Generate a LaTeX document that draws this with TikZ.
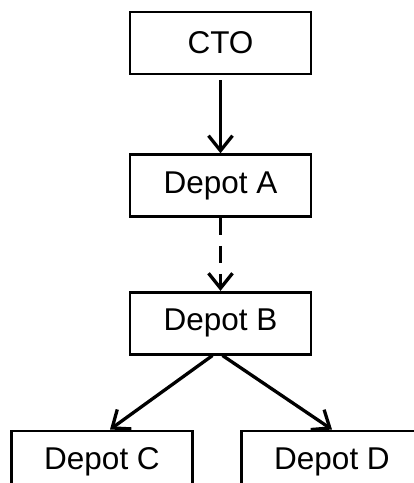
\documentclass[tikz,border=0pt]{standalone}
\usepackage{fontspec}
\setmainfont{Liberation Sans}
\usepackage{tikz}
\usetikzlibrary{arrows.meta,positioning}

\begin{document}
\begin{tikzpicture}[
      x=1pt, y=1pt,
      box/.style={
        draw,
        line width=2.6pt,
        minimum width=181pt,
        minimum height=62pt,
        inner sep=0pt,
        font=\fontsize{31.5}{38}\selectfont
      },
      link/.style={-{Straight Barb[length=15pt,width=24pt]}, line width=3.3pt},
      weak/.style={link, dash pattern=on 17pt off 11pt}
    ]
    \clip (0,0) rectangle (414,-483);
    \node[box] (cto) at (220.5,-43) {CTO};
    \node[box, below=78pt of cto] (depotA) {Depot A};
    \node[box, below=73pt of depotA] (depotB) {Depot B};
    \node[box, below=74pt of depotB, xshift=-118.5pt] (depotC) {Depot C};
    \node[box, below=74pt of depotB, xshift=111.5pt] (depotD) {Depot D};

    \draw[link] ([yshift=-5pt]cto.south) -- (depotA.north);
    \draw[weak] (depotA.south) -- (depotB.north);
    \draw[link] ([xshift=-8pt]depotB.south) -- ([xshift=8pt]depotC.north);
    \draw[link] ([xshift=2pt]depotB.south) -- (depotD.north);
  \end{tikzpicture}
\end{document}
